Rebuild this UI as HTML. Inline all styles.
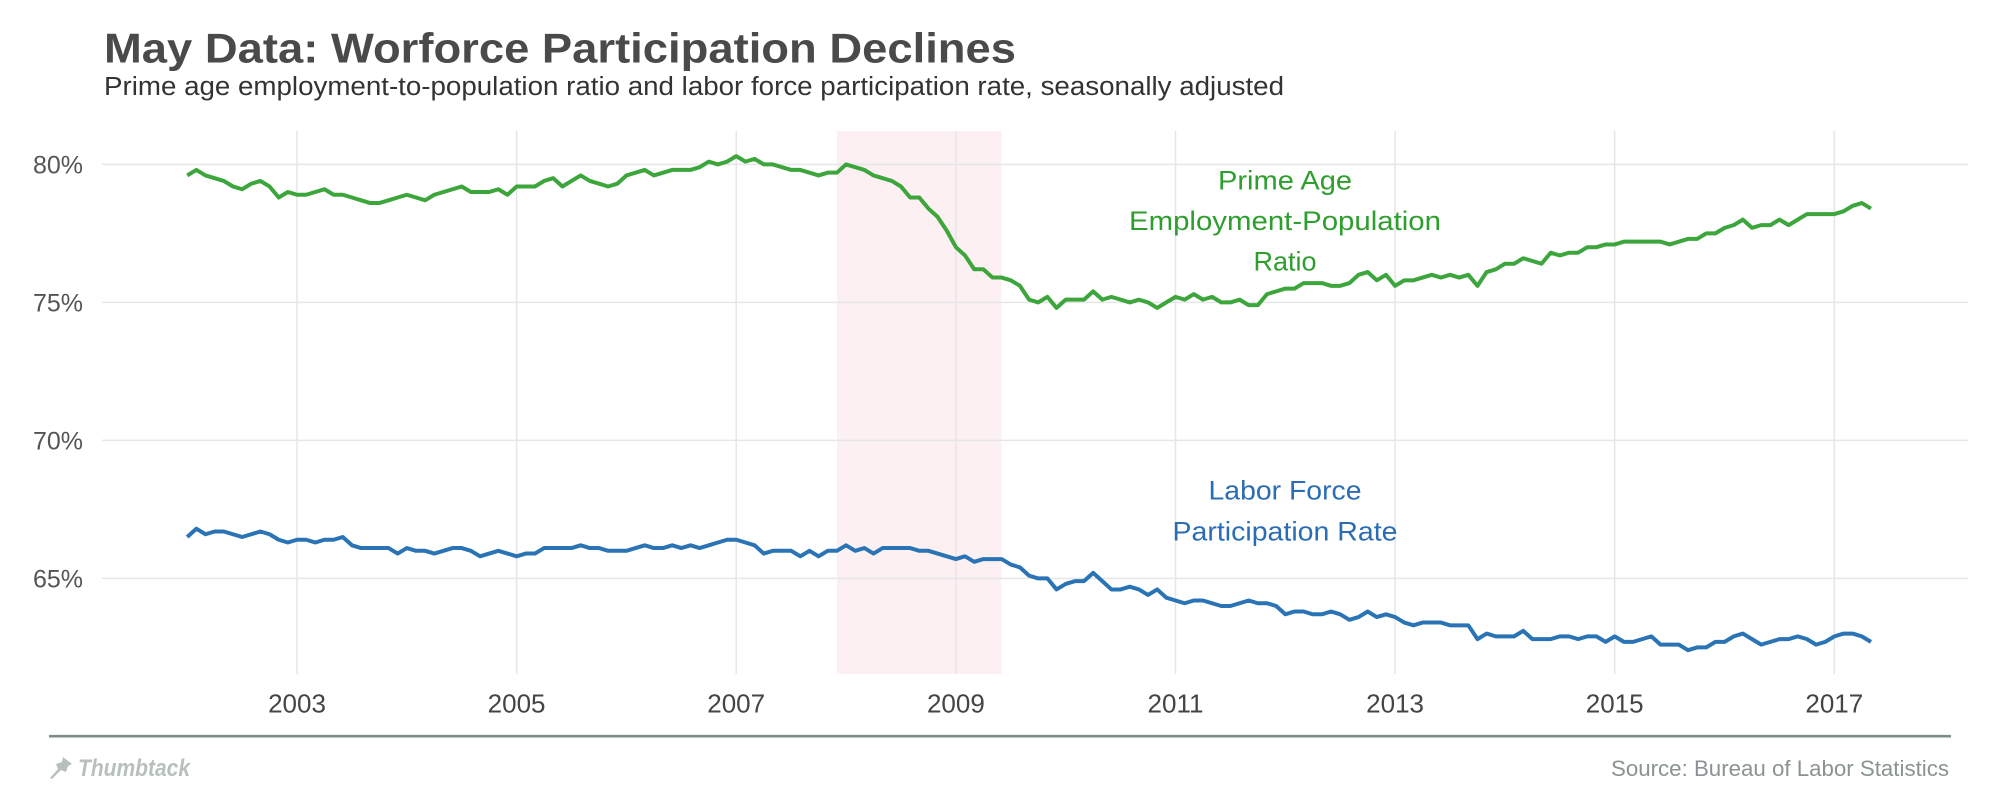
<!DOCTYPE html>
<html>
<head>
<meta charset="utf-8">
<style>
  html, body { margin: 0; padding: 0; background: #ffffff; }
  body { width: 2000px; height: 800px; overflow: hidden; }
  svg { display: block; }
  text { font-family: "Liberation Sans", sans-serif; }
</style>
</head>
<body>
<svg width="2000" height="800" viewBox="0 0 2000 800" xmlns="http://www.w3.org/2000/svg">
  <rect x="0" y="0" width="2000" height="800" fill="#ffffff"/>

  <!-- Title & subtitle -->
  <text x="104" y="62.7" font-size="42" font-weight="bold" fill="#4a4a4a" textLength="912" lengthAdjust="spacingAndGlyphs">May Data: Worforce Participation Declines</text>
  <text x="104" y="95" font-size="25.5" fill="#333333" textLength="1180" lengthAdjust="spacingAndGlyphs">Prime age employment-to-population ratio and labor force participation rate, seasonally adjusted</text>

  <!-- Recession shading -->
  <rect x="836.9" y="131" width="164.7" height="543" fill="#fdf0f2"/>

  <!-- Horizontal gridlines -->
  <g stroke="#e6e6e6" stroke-width="1.5">
    <line x1="102" y1="164.4" x2="1968" y2="164.4"/>
    <line x1="102" y1="302.4" x2="1968" y2="302.4"/>
    <line x1="102" y1="440.4" x2="1968" y2="440.4"/>
    <line x1="102" y1="578.4" x2="1968" y2="578.4"/>
  </g>
  <!-- Vertical gridlines -->
  <g stroke="#e6e6e6" stroke-width="1.5">
    <line x1="297" y1="131" x2="297" y2="674"/>
    <line x1="516.6" y1="131" x2="516.6" y2="674"/>
    <line x1="736.2" y1="131" x2="736.2" y2="674"/>
    <line x1="955.9" y1="131" x2="955.9" y2="674"/>
    <line x1="1175.5" y1="131" x2="1175.5" y2="674"/>
    <line x1="1395.1" y1="131" x2="1395.1" y2="674"/>
    <line x1="1614.7" y1="131" x2="1614.7" y2="674"/>
    <line x1="1834.3" y1="131" x2="1834.3" y2="674"/>
  </g>

  <!-- Y axis labels -->
  <g font-size="25" fill="#555555" text-anchor="end">
    <text x="83" y="173.5">80%</text>
    <text x="83" y="311.5">75%</text>
    <text x="83" y="449.5">70%</text>
    <text x="83" y="587.5">65%</text>
  </g>

  <!-- X axis labels -->
  <g font-size="26" fill="#444444" text-anchor="middle">
    <text x="297" y="712.3">2003</text>
    <text x="516.6" y="712.3">2005</text>
    <text x="736.2" y="712.3">2007</text>
    <text x="955.9" y="712.3">2009</text>
    <text x="1175.5" y="712.3">2011</text>
    <text x="1395.1" y="712.3">2013</text>
    <text x="1614.7" y="712.3">2015</text>
    <text x="1834.3" y="712.3">2017</text>
  </g>

  <!-- Series (x = month index, y = value*10) -->
  <g transform="translate(187.2,2372.4) scale(9.151,-2.76)">
    <polyline fill="none" stroke="#3ca53c" stroke-width="4" vector-effect="non-scaling-stroke" stroke-linejoin="round" stroke-linecap="butt"
      points="0,796 1,798 2,796 3,795 4,794 5,792 6,791 7,793 8,794 9,792 10,788 11,790
      12,789 13,789 14,790 15,791 16,789 17,789 18,788 19,787 20,786 21,786 22,787 23,788
      24,789 25,788 26,787 27,789 28,790 29,791 30,792 31,790 32,790 33,790 34,791 35,789
      36,792 37,792 38,792 39,794 40,795 41,792 42,794 43,796 44,794 45,793 46,792 47,793
      48,796 49,797 50,798 51,796 52,797 53,798 54,798 55,798 56,799 57,801 58,800 59,801
      60,803 61,801 62,802 63,800 64,800 65,799 66,798 67,798 68,797 69,796 70,797 71,797
      72,800 73,799 74,798 75,796 76,795 77,794 78,792 79,788 80,788 81,784 82,781 83,776
      84,770 85,767 86,762 87,762 88,759 89,759 90,758 91,756 92,751 93,750 94,752 95,748
      96,751 97,751 98,751 99,754 100,751 101,752 102,751 103,750 104,751 105,750 106,748 107,750
      108,752 109,751 110,753 111,751 112,752 113,750 114,750 115,751 116,749 117,749 118,753 119,754
      120,755 121,755 122,757 123,757 124,757 125,756 126,756 127,757 128,760 129,761 130,758 131,760
      132,756 133,758 134,758 135,759 136,760 137,759 138,760 139,759 140,760 141,756 142,761 143,762
      144,764 145,764 146,766 147,765 148,764 149,768 150,767 151,768 152,768 153,770 154,770 155,771
      156,771 157,772 158,772 159,772 160,772 161,772 162,771 163,772 164,773 165,773 166,775 167,775
      168,777 169,778 170,780 171,777 172,778 173,778 174,780 175,778 176,780 177,782 178,782 179,782
      180,782 181,783 182,785 183,786 184,784"/>
    <polyline fill="none" stroke="#2a74b6" stroke-width="4" vector-effect="non-scaling-stroke" stroke-linejoin="round" stroke-linecap="butt"
      points="0,665 1,668 2,666 3,667 4,667 5,666 6,665 7,666 8,667 9,666 10,664 11,663
      12,664 13,664 14,663 15,664 16,664 17,665 18,662 19,661 20,661 21,661 22,661 23,659
      24,661 25,660 26,660 27,659 28,660 29,661 30,661 31,660 32,658 33,659 34,660 35,659
      36,658 37,659 38,659 39,661 40,661 41,661 42,661 43,662 44,661 45,661 46,660 47,660
      48,660 49,661 50,662 51,661 52,661 53,662 54,661 55,662 56,661 57,662 58,663 59,664
      60,664 61,663 62,662 63,659 64,660 65,660 66,660 67,658 68,660 69,658 70,660 71,660
      72,662 73,660 74,661 75,659 76,661 77,661 78,661 79,661 80,660 81,660 82,659 83,658
      84,657 85,658 86,656 87,657 88,657 89,657 90,655 91,654 92,651 93,650 94,650 95,646
      96,648 97,649 98,649 99,652 100,649 101,646 102,646 103,647 104,646 105,644 106,646 107,643
      108,642 109,641 110,642 111,642 112,641 113,640 114,640 115,641 116,642 117,641 118,641 119,640
      120,637 121,638 122,638 123,637 124,637 125,638 126,637 127,635 128,636 129,638 130,636 131,637
      132,636 133,634 134,633 135,634 136,634 137,634 138,633 139,633 140,633 141,628 142,630 143,629
      144,629 145,629 146,631 147,628 148,628 149,628 150,629 151,629 152,628 153,629 154,629 155,627
      156,629 157,627 158,627 159,628 160,629 161,626 162,626 163,626 164,624 165,625 166,625 167,627
      168,627 169,629 170,630 171,628 172,626 173,627 174,628 175,628 176,629 177,628 178,626 179,627
      180,629 181,630 182,630 183,629 184,627"/>
  </g>

  <!-- Annotations -->
  <g font-size="27" fill="#2e9e2e" text-anchor="middle">
    <text x="1285" y="189.3" textLength="134" lengthAdjust="spacingAndGlyphs">Prime Age</text>
    <text x="1285" y="230" textLength="312" lengthAdjust="spacingAndGlyphs">Employment-Population</text>
    <text x="1285" y="270.7" textLength="63" lengthAdjust="spacingAndGlyphs">Ratio</text>
  </g>
  <g font-size="27" fill="#2a6db4" text-anchor="middle">
    <text x="1285" y="499.3" textLength="153" lengthAdjust="spacingAndGlyphs">Labor Force</text>
    <text x="1285" y="540.7" textLength="225" lengthAdjust="spacingAndGlyphs">Participation Rate</text>
  </g>

  <!-- Footer rule -->
  <line x1="49" y1="736.2" x2="1951" y2="736.2" stroke="#7f8a8a" stroke-width="2.6"/>

  <!-- Thumbtack logo -->
  <g fill="#b7bfbf">
    <path d="M63,757 L72,764 L68,766 L66,772 L61,770 L52,779 L50,778 L58,769 L56,764 L62,762 Z"/>
  </g>
  <text x="78" y="776" font-family="Liberation Serif, serif" font-style="italic" font-weight="bold" font-size="24" fill="#b7bfbf" textLength="112" lengthAdjust="spacingAndGlyphs">Thumbtack</text>

  <!-- Source -->
  <text x="1949" y="776" font-size="22" fill="#8a9393" text-anchor="end" textLength="338" lengthAdjust="spacingAndGlyphs">Source: Bureau of Labor Statistics</text>
</svg>
</body>
</html>
